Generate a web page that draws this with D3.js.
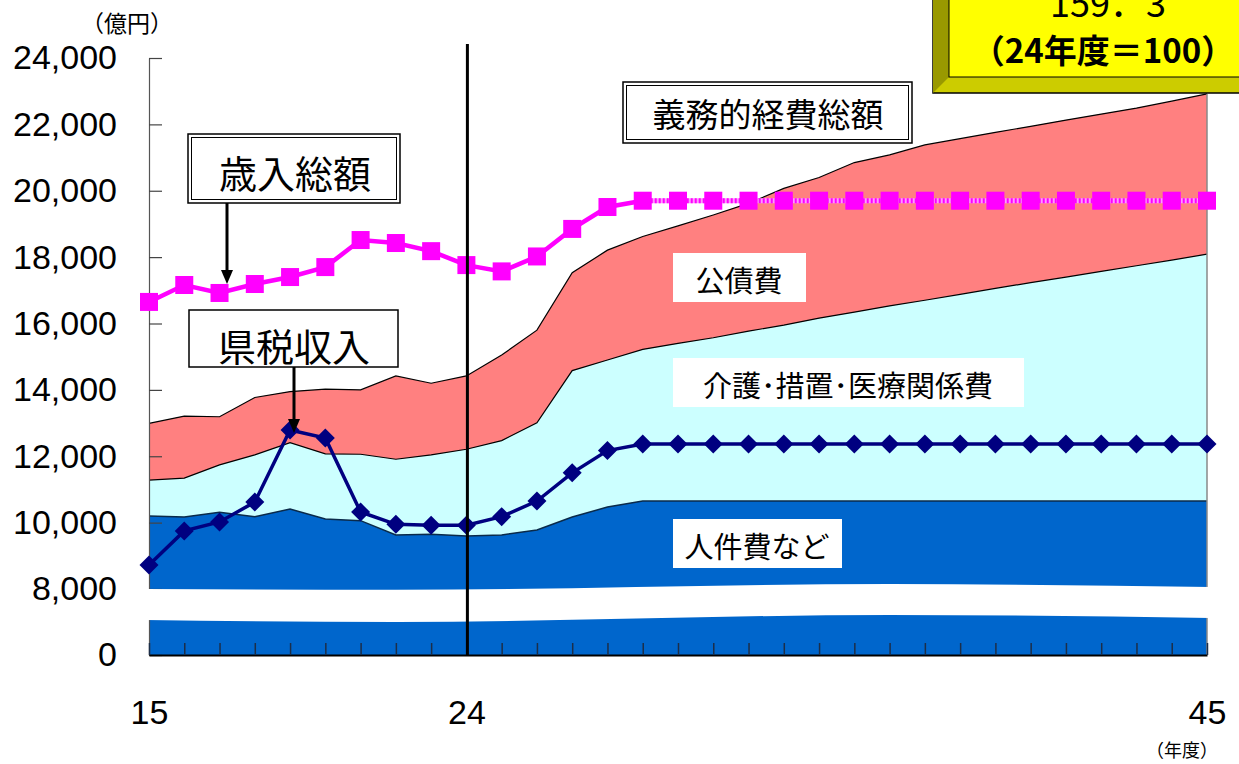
<!DOCTYPE html>
<meta charset="utf-8">
<head>
    <title>義務的経費と歳入</title>
</head>
<style>
    body { margin: 0; background: #fff; }
    svg { display: block; }
    .jp { font-family: "Noto Sans CJK JP", sans-serif; }
    .num { font-family: "Liberation Sans", Arial, sans-serif; }
</style>
<body>
<svg id="chart"></svg>
<script src="https://cdnjs.cloudflare.com/ajax/libs/d3/7.8.5/d3.min.js"></script>
<script>

// Data (億円), fiscal years 15..45
var years = [15, 16, 17, 18, 19, 20, 21, 22, 23, 24, 25, 26, 27, 28, 29, 30,
             31, 32, 33, 34, 35, 36, 37, 38, 39, 40, 41, 42, 43, 44, 45];

// 歳入総額
var revenue = [16650, 17160, 16920, 17190, 17400, 17700, 18515, 18425, 18180, 17760,
               17570, 18020, 18850, 19510, 19700, 19700, 19700, 19700, 19700, 19700,
               19700, 19700, 19700, 19700, 19700, 19700, 19700, 19700, 19700, 19700, 19700];

// 県税収入
var prefTax = [8720, 9750, 10020, 10620, 12790, 12550, 10320, 9950, 9920, 9920,
               10180, 10650, 11500, 12170, 12370, 12370, 12370, 12370, 12370, 12370,
               12370, 12370, 12370, 12370, 12370, 12370, 12370, 12370, 12370, 12370, 12370];

// 人件費など (stack level 1)
var personnel = [10200, 10170, 10310, 10180, 10410, 10110, 10060, 9630, 9650, 9600,
                 9630, 9780, 10170, 10470, 10650, 10650, 10650, 10650, 10650, 10650,
                 10650, 10650, 10650, 10650, 10650, 10650, 10650, 10650, 10650, 10650, 10650];

// 人件費 + 介護・措置・医療関係費 (stack level 2)
var withCare = [11280, 11340, 11740, 12040, 12410, 12070, 12060, 11910, 12040, 12210,
                12470, 13010, 14580, 14900, 15220, 15400, 15570, 15770, 15950, 16160,
                16340, 16530, 16700, 16880, 17060, 17230, 17400, 17570, 17740, 17910, 18090];

// 義務的経費総額 (+ 公債費, stack level 3)
var obligatory = [12990, 13210, 13190, 13770, 13950, 14020, 14000, 14420, 14200, 14420,
                  15050, 15800, 17530, 18210, 18620, 18940, 19270, 19620, 20070, 20400,
                  20850, 21080, 21380, 21570, 21760, 21940, 22130, 22310, 22490, 22700, 22920];

var yTicks = [0, 8000, 10000, 12000, 14000, 16000, 18000, 20000, 22000, 24000];
var xLabels = [15, 24, 45];
var baseYear = 24;
var dottedFrom = 29;

// axis break (white band across the lower part)
var breakYears = [14.9, 22, 36, 45.1];
var breakTop = [8000, 7910, 8150, 8060];
var breakBottom = [4240, 4000, 4850, 4480];

// Layout
var width = 1239, height = 764;
var svg = d3.select('#chart').attr('width', width).attr('height', height);

var x = d3.scaleLinear().domain([15, 45]).range([149, 1207]);
var y = d3.scaleLinear().domain([0, 8000, 24000]).range([655, 589, 58]);

var rows = years.map((yr, i) => ({
    yr: yr, rev: revenue[i], tax: prefTax[i],
    p: personnel[i], c: withCare[i], t: obligatory[i]
}));

var area = (lo, hi) => d3.area().x(d => x(d.yr)).y0(lo).y1(hi);

// Stacked areas
svg.append('path').datum(rows)
    .attr('d', area(() => y(0), d => y(d.t)))
    .attr('fill', '#FF8080');
svg.append('path').datum(rows)
    .attr('d', area(() => y(0), d => y(d.c)))
    .attr('fill', '#CCFFFF');
svg.append('path').datum(rows)
    .attr('d', area(() => y(0), d => y(d.p)))
    .attr('fill', '#0066CC');

// boundary lines
[['t', '#000', 1.2], ['c', '#000', 1.2], ['p', '#0a2a4a', 1.5]].forEach(([k, col, w]) => {
    svg.append('path').datum(rows)
        .attr('d', d3.line().x(d => x(d.yr)).y(d => y(d[k])))
        .attr('fill', 'none').attr('stroke', col).attr('stroke-width', w);
});

// right edge
svg.append('line')
    .attr('x1', x(45)).attr('x2', x(45))
    .attr('y1', y(obligatory[obligatory.length - 1])).attr('y2', y(0))
    .attr('stroke', '#888').attr('stroke-width', 1.5);

// Axes
var yAxis = svg.append('g').attr('class', 'num')
    .attr('transform', `translate(${x(15)},0)`)
    .call(d3.axisLeft(y).tickValues(yTicks).tickSize(-13).tickSizeOuter(0).tickPadding(32)
        .tickFormat(d => d === 0 ? '0' : d3.format(',')(d)));
yAxis.select('.domain').attr('stroke', '#555').attr('stroke-width', 1.2);
yAxis.selectAll('.tick line').attr('stroke', '#444').attr('stroke-width', 1.2);
yAxis.selectAll('text').attr('font-size', 34).attr('fill', '#000')
    .attr('font-family', '"Liberation Sans", Arial, sans-serif');

var xAxis = svg.append('g').attr('class', 'num')
    .attr('transform', `translate(0,${y(0)})`)
    .call(d3.axisBottom(x).tickValues(years).tickSize(-12).tickSizeOuter(0).tickPadding(45)
        .tickFormat(d => xLabels.includes(d) ? d : ''));
xAxis.select('.domain').attr('stroke', '#000').attr('stroke-width', 2);
xAxis.selectAll('.tick line').attr('stroke', '#1c2e48').attr('stroke-width', 1.5);
xAxis.selectAll('text').attr('font-size', 34).attr('fill', '#000')
    .attr('font-family', '"Liberation Sans", Arial, sans-serif');

// Axis break band
var bk = breakYears.map((yr, i) => ({ yr: yr, a: breakTop[i], b: breakBottom[i] }));
svg.append('path').datum(bk)
    .attr('d', d3.area().curve(d3.curveMonotoneX)
        .x(d => x(d.yr)).y0(d => y(d.b)).y1(d => y(d.a)))
    .attr('fill', '#fff');

// 歳入総額 line (solid then dotted)
var revLine = d3.line().x(d => x(d.yr)).y(d => y(d.rev));
svg.append('path').datum(rows.filter(d => d.yr <= dottedFrom))
    .attr('d', revLine).attr('fill', 'none')
    .attr('stroke', '#FF00FF').attr('stroke-width', 4.5);
var dotted = rows.filter(d => d.yr >= dottedFrom);
svg.append('path').datum(dotted)
    .attr('d', revLine).attr('fill', 'none')
    .attr('stroke', '#FF99FF').attr('stroke-width', 5);
svg.append('path').datum(dotted)
    .attr('d', revLine).attr('fill', 'none')
    .attr('stroke', '#FF00FF').attr('stroke-width', 5).attr('stroke-dasharray', '2 2');
svg.append('g').selectAll('rect').data(rows).enter().append('rect')
    .attr('x', d => x(d.yr) - 9).attr('y', d => y(d.rev) - 9)
    .attr('width', 18).attr('height', 18)
    .attr('fill', '#FF00FF');

// 県税収入 line
svg.append('path').datum(rows)
    .attr('d', d3.line().x(d => x(d.yr)).y(d => y(d.tax)))
    .attr('fill', 'none').attr('stroke', '#000080').attr('stroke-width', 3.5);
svg.append('g').selectAll('path').data(rows).enter().append('path')
    .attr('d', 'M0,-9.5L9.5,0L0,9.5L-9.5,0Z')
    .attr('transform', d => `translate(${x(d.yr)},${y(d.tax)})`)
    .attr('fill', '#000080');

// base year line
svg.append('line')
    .attr('x1', x(baseYear) + 1).attr('x2', x(baseYear) + 1)
    .attr('y1', 44).attr('y2', y(0))
    .attr('stroke', '#000').attr('stroke-width', 3);

// Unit labels
svg.append('text').attr('class', 'jp').attr('x', 127).attr('y', 32)
    .attr('text-anchor', 'middle').attr('font-size', 23).text('（億円）');
svg.append('text').attr('class', 'jp').attr('x', 1182).attr('y', 757)
    .attr('text-anchor', 'middle').attr('font-size', 18).text('（年度）');

// Label boxes
function doubleBox(x0, y0, w, h) {
    svg.append('rect').attr('x', x0).attr('y', y0).attr('width', w).attr('height', h)
        .attr('fill', '#fff').attr('stroke', '#000').attr('stroke-width', 1.5);
    svg.append('rect').attr('x', x0 + 3.5).attr('y', y0 + 3.5).attr('width', w - 7).attr('height', h - 7)
        .attr('fill', 'none').attr('stroke', '#000').attr('stroke-width', 1);
}
function label(tx, ty, size, str, weight) {
    svg.append('text').attr('class', 'jp').attr('x', tx).attr('y', ty)
        .attr('text-anchor', 'middle').attr('dominant-baseline', 'central')
        .attr('font-size', size).attr('font-weight', weight || 'normal').text(str);
}
function arrow(ax, y0, y1) {
    svg.append('line').attr('x1', ax).attr('x2', ax).attr('y1', y0).attr('y2', y1 - 12)
        .attr('stroke', '#000').attr('stroke-width', 3);
    svg.append('path').attr('d', `M${ax - 6},${y1 - 14}L${ax + 6},${y1 - 14}L${ax},${y1}Z`).attr('fill', '#000');
}

doubleBox(623, 82, 289, 61);
label(768, 113, 33, '義務的経費総額');

doubleBox(188, 134, 212, 69);
label(295, 171, 38, '歳入総額');
arrow(227, 203, 284);

svg.append('rect').attr('x', 189).attr('y', 310).attr('width', 209).attr('height', 57)
    .attr('fill', '#fff').attr('stroke', '#000').attr('stroke-width', 1.5);
label(294, 344, 38, '県税収入');
arrow(294, 367, 433);

svg.append('rect').attr('x', 673).attr('y', 253).attr('width', 133).attr('height', 49).attr('fill', '#fff');
label(739, 279, 29, '公債費');

svg.append('rect').attr('x', 673).attr('y', 358).attr('width', 351).attr('height', 49).attr('fill', '#fff');
label(848, 384, 29, '介護･措置･医療関係費');

svg.append('rect').attr('x', 673).attr('y', 519).attr('width', 169).attr('height', 49).attr('fill', '#fff');
label(757, 545, 29, '人件費など');

// Index box (top right)
var bx = 933, by = -30, bw = 330, bh = 123, bev = 16;
svg.append('rect').attr('x', bx).attr('y', by).attr('width', bw).attr('height', bh)
    .attr('fill', '#CCCC00').attr('stroke', '#000').attr('stroke-width', 1.5);
svg.append('path')
    .attr('d', `M${bx},${by}L${bx + bev},${by + bev}L${bx + bev},${by + bh - bev}L${bx},${by + bh}Z`)
    .attr('fill', '#999900');
svg.append('rect').attr('x', bx + bev).attr('y', by).attr('width', bw - bev).attr('height', bh - bev)
    .attr('fill', '#FFFF00').attr('stroke', '#000').attr('stroke-width', 1);
svg.append('text').attr('class', 'jp').attr('x', 1108).attr('y', 17)
    .attr('text-anchor', 'middle').attr('font-size', 36).text('159．3');
svg.append('text').attr('class', 'jp').attr('x', 1103).attr('y', 63)
    .attr('text-anchor', 'middle').attr('font-size', 33).attr('font-weight', 'bold').text('（24年度＝100）');

</script>
</body>
</html>
